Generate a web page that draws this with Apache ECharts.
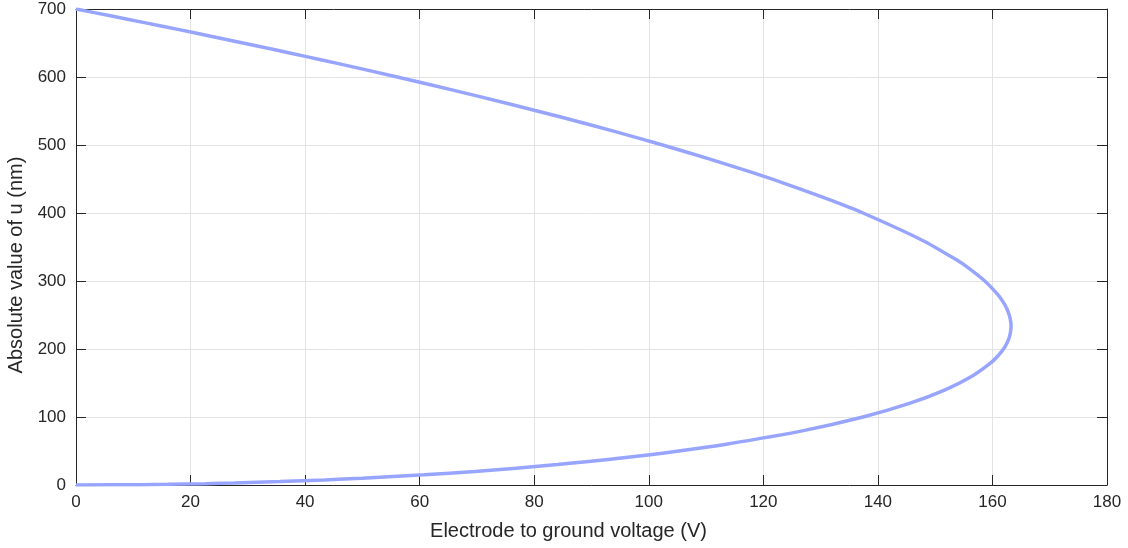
<!DOCTYPE html>
<html>
<head>
<meta charset="utf-8">
<script src="https://cdn.jsdelivr.net/npm/echarts@6/dist/echarts.min.js"></script>
<style>html,body{margin:0;padding:0;background:#fff}#c{width:1128px;height:548px}</style>
</head>
<body>
<div id="c"></div>
<script>
// Absolute deflection |u| (nm)
const deflection = [0, 0.5, 1, 2, 3, 5, 7.5, 10, 15, 20, 30, 40, 50, 60, 80, 100, 120, 140, 160, 180, 190, 200, 210, 220, 233, 240, 250, 260, 270, 280, 300, 320, 330, 360, 400, 420, 440, 460, 480, 500, 520, 540, 560, 580, 600, 620, 630, 640, 660, 670, 680, 690, 700];
// Electrode to ground voltage (V) at each deflection
const voltage = [0, 11.33, 16.01, 22.60, 27.65, 35.59, 43.43, 49.97, 60.75, 69.64, 84.04, 95.59, 105.25, 113.52, 126.99, 137.40, 145.50, 151.73, 156.42, 159.76, 160.98, 161.93, 162.61, 163.04, 163.25, 163.19, 162.93, 162.47, 161.80, 160.94, 158.66, 155.67, 153.92, 147.73, 137.40, 131.41, 124.89, 117.88, 110.38, 102.41, 94.00, 85.14, 75.87, 66.18, 56.09, 45.62, 40.24, 34.76, 23.53, 17.78, 11.94, 6.02, 0];
const xTicks = [0, 20, 40, 60, 80, 100, 120, 140, 160, 180];
const yTicks = [0, 100, 200, 300, 400, 500, 600, 700];

const axisColor = '#262626';
const font = 'Liberation Sans, Arial, sans-serif';
const points = voltage.map((v, i) => [v, deflection[i]]);

const chart = echarts.init(document.getElementById('c'), null, {renderer: 'canvas'});
const baseX = {
  type: 'value', min: 0, max: 180, interval: 20,
  axisLine: {show: true, onZero: false, lineStyle: {color: axisColor, width: 1}},
  axisTick: {show: true, inside: true, length: 10, lineStyle: {color: axisColor}},
  splitLine: {show: false},
};
const baseY = {
  type: 'value', min: 0, max: 700, interval: 100,
  axisLine: {show: true, onZero: false, lineStyle: {color: axisColor, width: 1}},
  axisTick: {show: true, inside: true, length: 10, lineStyle: {color: axisColor}},
  splitLine: {show: false},
};
chart.setOption({
  animation: false,
  backgroundColor: '#ffffff',
  grid: {left: 76, right: 21, top: 9, bottom: 63, containLabel: false, outerBoundsMode: 'none'},
  xAxis: [
    Object.assign({}, baseX, {
      position: 'bottom',
      name: 'Electrode to ground voltage (V)', nameLocation: 'middle', nameGap: 36,
      nameTextStyle: {color: axisColor, fontSize: 20, fontFamily: font, padding: [0, 46, 0, 0]},
      axisLabel: {color: axisColor, fontSize: 17, fontFamily: font, margin: 9,
        formatter: v => xTicks.includes(v) ? String(v) : ''},
      splitLine: {show: true, lineStyle: {color: '#e3e3e3', width: 1}},
    }),
    Object.assign({}, baseX, {position: 'top', axisLabel: {show: false}}),
  ],
  yAxis: [
    Object.assign({}, baseY, {
      position: 'left',
      name: 'Absolute value of u (nm)', nameLocation: 'middle', nameGap: 50,
      nameTextStyle: {color: axisColor, fontSize: 20, fontFamily: font, padding: [0, 36, 0, 0]},
      axisLabel: {color: axisColor, fontSize: 17, fontFamily: font, margin: 10,
        formatter: v => yTicks.includes(v) ? String(v) : ''},
      splitLine: {show: true, lineStyle: {color: '#e3e3e3', width: 1}},
    }),
    Object.assign({}, baseY, {position: 'right', axisLabel: {show: false}}),
  ],
  series: [{
    type: 'line', data: points, smooth: 0.3, showSymbol: false,
    lineStyle: {color: '#98a5ff', width: 3.5},
    xAxisIndex: 0, yAxisIndex: 0, z: 5,
  }],
});
</script>
</body>
</html>
